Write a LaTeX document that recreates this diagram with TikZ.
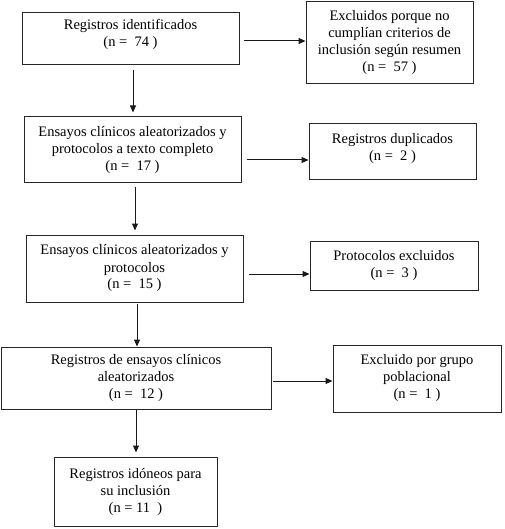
\documentclass[tikz,border=0pt]{standalone}
\usepackage{fontspec}
\setmainfont{Liberation Serif}
\usetikzlibrary{arrows.meta}
\begin{document}
\begin{tikzpicture}[x=1pt,y=-1pt,
  box/.style={draw=black!85, line width=1pt, align=center, inner sep=0pt,
    font=\fontsize{14.5}{17}\selectfont},
  arr/.style={draw=black!90, line width=1pt, -{Triangle[length=7pt,width=6pt]}}]
\useasboundingbox[fill=white] (0,0) rectangle (504,529);
\node[box, minimum width=217pt, minimum height=52pt] (b1) at (130.5,39)
  {Registros identificados\\(n = \ 74 )\\[-4pt]\mbox{}};
\node[box, minimum width=167pt, minimum height=82pt] (b2) at (389.5,43)
  {Excluidos porque no\\cumplían criterios de\\inclusión según resumen\\(n = \ 57 )};
\node[box, minimum width=217pt, minimum height=66pt] (b3) at (132.5,150)
  {Ensayos clínicos aleatorizados y\\protocolos a texto completo\\(n = \ 17 )};
\node[box, minimum width=167pt, minimum height=56pt] (b4) at (392.5,152)
  {Registros duplicados\\(n = \ 2 )\\[-6pt]\mbox{}};
\node[box, minimum width=217pt, minimum height=67pt] (b5) at (134.5,268.5)
  {Ensayos clínicos aleatorizados y\\protocolos\\(n = \ 15 )};
\node[box, minimum width=168pt, minimum height=49pt] (b6) at (394,265.5)
  {Protocolos excluidos\\(n = \ 3 )};
\node[box, minimum width=270pt, minimum height=62pt] (b7) at (136,378)
  {Registros de ensayos clínicos\\aleatorizados\\(n = \ 12 )};
\node[box, minimum width=168pt, minimum height=67pt] (b8) at (417,378.5)
  {Excluido por grupo\\poblacional\\(n = \ 1 )};
\node[box, minimum width=163pt, minimum height=69pt] (b9) at (135.5,491.5)
  {Registros idóneos para\\su inclusión\\(n = 11 \ )};
% horizontal arrows
\draw[arr, shorten <=4pt] ([yshift=-2pt]b1.east) -- ([yshift=-2pt]b1.east -| b2.west);
\draw[arr, shorten <=5pt] ([yshift=-10pt]b3.east) -- ([yshift=-10pt]b3.east -| b4.west);
\draw[arr, shorten <=5pt] ([yshift=-5.5pt]b5.east) -- ([yshift=-5.5pt]b5.east -| b6.west);
\draw[arr, shorten <=1pt] ([yshift=-3pt]b7.east) -- ([yshift=-3pt]b7.east -| b8.west);
% vertical arrows
\draw[arr, shorten <=5pt, shorten >=4pt] ([xshift=2.5pt]b1.south) -- ([xshift=2.5pt]b1.south |- b3.north);
\draw[arr, shorten <=4pt, shorten >=4pt] ([xshift=2.5pt]b3.south) -- ([xshift=2.5pt]b3.south |- b5.north);
\draw[arr, shorten <=1pt, shorten >=0pt] ([xshift=2.5pt]b5.south) -- ([xshift=2.5pt]b5.south |- b7.north);
\draw[arr, shorten <=0pt, shorten >=4pt] (b7.south) -- (b7.south |- b9.north);
\end{tikzpicture}
\end{document}
